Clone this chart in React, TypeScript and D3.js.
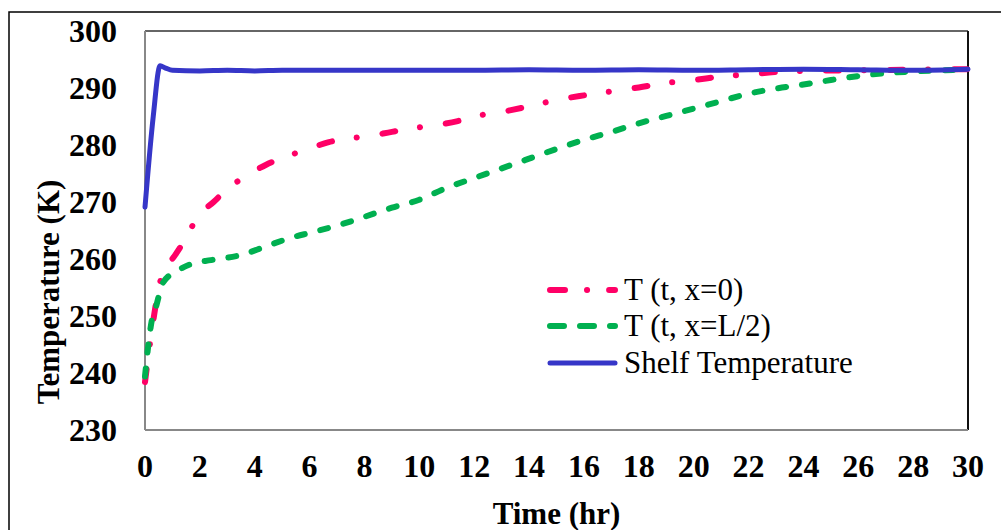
import React from 'react'
import { scaleLinear, line, curveMonotoneX } from 'd3'

// time (hr) / temperature (K)
const surfaceTime = [0, 0.2, 0.6, 1.1, 1.5, 1.9, 2.5, 3, 3.7, 4.4, 5.1, 5.9, 6.7, 7.4, 8.2, 9, 10, 11.4, 12, 13, 14, 15, 16, 17, 18, 19, 20, 21, 22, 23, 24, 26, 28, 30]
const surfaceTemp = [238.4, 245.8, 256.8, 260.7, 263.7, 267.3, 270, 272.3, 274.6, 276.5, 277.9, 279.2, 280.5, 281.1, 281.6, 282.3, 283.1, 284.2, 285.0, 285.8, 286.8, 287.9, 288.7, 289.4, 290.1, 290.9, 291.4, 292.0, 292.4, 292.8, 293.0, 293.1, 293.2, 293.3]

const midTime = [0, 0.1, 0.25, 0.4, 0.65, 1.2, 1.8, 2.4, 3.5, 4.4, 5.3, 6.1, 7.1, 8, 9, 10, 11, 12, 13, 14, 15, 16, 17, 18, 19, 20, 21, 22, 23, 24, 25, 26, 27, 28, 29, 30]
const midTemp = [239.4, 244, 249.3, 251.6, 255.8, 258, 259.3, 259.8, 260.7, 262.2, 263.7, 264.7, 266, 267.4, 269, 270.4, 272.5, 274.2, 275.9, 277.6, 279.3, 280.9, 282.3, 283.8, 285.1, 286.4, 287.7, 289, 289.9, 290.6, 291.4, 292.1, 292.6, 292.9, 293.1, 293.2]

const shelfTime = [0, 0.3, 0.55, 0.75, 1, 2, 3, 4, 5, 6, 8, 10, 12, 14, 16, 18, 20, 22, 24, 26, 28, 30]
const shelfTemp = [269.1, 285, 293.9, 293.5, 293.1, 293.0, 293.1, 293.0, 293.1, 293.1, 293.1, 293.1, 293.1, 293.2, 293.1, 293.2, 293.1, 293.2, 293.3, 293.2, 293.1, 293.3]

const xTicks = [0, 2, 4, 6, 8, 10, 12, 14, 16, 18, 20, 22, 24, 26, 28, 30]
const yTicks = [230, 240, 250, 260, 270, 280, 290, 300]

const legendLabels = ['T (t, x=0)', 'T (t, x=L/2)', 'Shelf Temperature']

const font = 'Liberation Serif, serif'

function App() {
    const width = 1001
    const height = 530
    const left = 145
    const right = 968
    const top = 31
    const bottom = 430

    const x = scaleLinear().domain([0, 30]).range([left, right])
    const y = scaleLinear().domain([230, 300]).range([bottom, top])

    const makeLine = (ts: number[], vs: number[]) =>
        line<number>()
            .x((_, i) => x(ts[i]))
            .y(d => y(d))
            .curve(curveMonotoneX)(vs) || ''

    const series = [
        { d: makeLine(surfaceTime, surfaceTemp), color: '#ff0066', width: 6, dash: '13 25 0.1 26', legendDash: '15 22 0.1 22' },
        { d: makeLine(midTime, midTemp), color: '#00b050', width: 6, dash: '8 16', legendDash: '14 16' },
        { d: makeLine(shelfTime, shelfTemp), color: '#3636c8', width: 5, dash: undefined, legendDash: undefined },
    ]

    const legendY = [290, 326, 363]

    return (
        <svg width={width} height={height} style={{ position: 'absolute', left: 0, top: 0, fontFamily: font }}>
            <rect x={9} y={12} width={width} height={height} fill="white" stroke="#000" strokeWidth={1.5} />

            {/* plot frame */}
            <line x1={left} y1={top} x2={right} y2={top} stroke="#333" strokeWidth={1.5} />
            <line x1={right} y1={top} x2={right} y2={bottom} stroke="#111" strokeWidth={2} />
            <line x1={left} y1={top} x2={left} y2={bottom} stroke="#888" strokeWidth={2} />
            <line x1={left} y1={bottom} x2={right} y2={bottom} stroke="#888" strokeWidth={2} />

            {yTicks.map(t => (
                <text key={t} x={117} y={y(t) + 11} textAnchor="end" fontSize={32} fontWeight="bold">
                    {t}
                </text>
            ))}
            {xTicks.map(t => (
                <text key={t} x={x(t)} y={477} textAnchor="middle" fontSize={32} fontWeight="bold">
                    {t}
                </text>
            ))}

            <text x={(left + right) / 2} y={524} textAnchor="middle" fontSize={31} fontWeight="bold">
                Time (hr)
            </text>
            <text transform="translate(59, 292) rotate(-90)" textAnchor="middle" fontSize={31} fontWeight="bold">
                Temperature (K)
            </text>

            {series.map((s, i) => (
                <path key={i} d={s.d} fill="none" stroke={s.color} strokeWidth={s.width}
                    strokeDasharray={s.dash} strokeLinecap="round" strokeLinejoin="round" />
            ))}

            {series.map((s, i) => (
                <g key={i}>
                    <line x1={550} x2={615} y1={legendY[i]} y2={legendY[i]} stroke={s.color} strokeWidth={s.width}
                        strokeDasharray={s.legendDash} strokeLinecap="round" />
                    <text x={624} y={legendY[i] + 10} fontSize={31}>
                        {legendLabels[i]}
                    </text>
                </g>
            ))}
        </svg>
    )
}

export default App
